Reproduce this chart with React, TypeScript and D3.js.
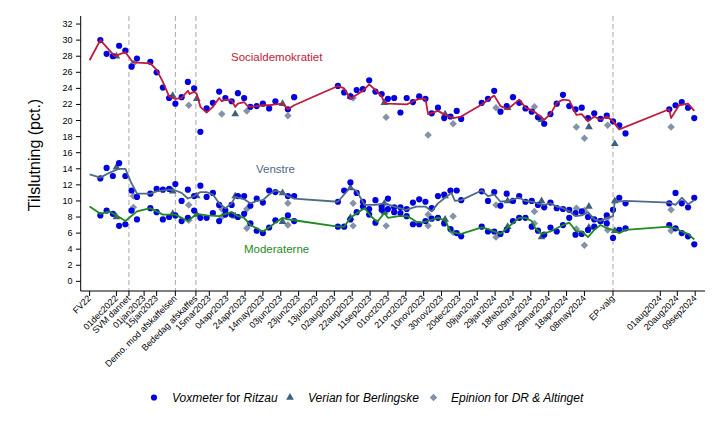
import * as d3 from "d3"

const parse = d3.timeParse("%Y-%m-%d")

// Voxmeter for Ritzau (weekly)
const voxDates = [
  "2022-11-13","2022-11-20","2022-11-27","2022-12-04","2022-12-11","2022-12-18","2022-12-24",
  "2023-01-08","2023-01-15","2023-01-22","2023-01-29","2023-02-05","2023-02-12","2023-02-19","2023-02-26",
  "2023-03-05","2023-03-12","2023-03-19","2023-03-26","2023-04-02","2023-04-09","2023-04-16","2023-04-23","2023-04-30",
  "2023-05-07","2023-05-14","2023-05-21","2023-05-28","2023-06-11","2023-06-18",
  "2023-08-06","2023-08-13","2023-08-20","2023-08-27","2023-09-03","2023-09-10","2023-09-17","2023-09-24",
  "2023-10-01","2023-10-08","2023-10-15","2023-10-22","2023-10-29","2023-11-05","2023-11-12","2023-11-19","2023-11-26",
  "2023-12-03","2023-12-10","2023-12-17","2023-12-22",
  "2024-01-14","2024-01-21","2024-01-28","2024-02-04","2024-02-11","2024-02-18","2024-02-25",
  "2024-03-03","2024-03-10","2024-03-17","2024-03-24","2024-03-31","2024-04-07","2024-04-14","2024-04-21","2024-04-28",
  "2024-05-05","2024-05-12","2024-05-19","2024-05-26","2024-06-02","2024-06-09","2024-06-16","2024-06-23",
  "2024-08-11","2024-08-18","2024-08-25","2024-09-01","2024-09-08",
]
const voxS = [
  30.0, 28.3, 28.0, 29.3, 28.7, 26.7, 27.7, 27.3, 26.0, 24.1, 22.8, 22.1, 22.9, 24.8, 24.0,
  18.6, 21.5, 22.2, 23.6, 22.8, 22.4, 23.4, 22.8, 21.7, 21.8, 22.1, 21.5, 22.4, 21.4, 22.9,
  24.3, 23.5, 23.0, 23.8, 23.9, 25.0, 23.6, 23.3, 22.7, 22.8, 21.0, 22.8, 22.3, 23.0, 22.7, 20.9, 21.6,
  20.3, 20.5, 21.2, 20.2, 22.2, 22.7, 23.7, 21.1, 21.8, 22.9, 22.2,
  21.5, 21.1, 20.4, 19.6, 20.8, 22.1, 23.2, 21.8, 21.4, 21.6, 20.3, 20.9, 20.2, 20.6, 19.9, 19.4, 18.4,
  21.4, 21.9, 22.3, 21.6, 20.3,
]
const voxV = [
  12.8, 14.1, 13.1, 14.7, 13.1, 11.3, 10.5, 10.9, 11.5, 11.4, 11.5, 12.1, 10.0, 11.4, 10.6,
  11.9, 10.5, 11.0, 9.5, 8.8, 9.5, 10.6, 10.6, 9.4, 10.3, 9.8, 11.3, 11.1, 10.6, 10.6,
  9.9, 11.3, 12.3, 11.0, 9.9, 9.0, 10.1, 9.3, 10.3, 9.2, 9.2, 9.0, 9.8, 10.2, 9.9, 9.1, 10.6,
  10.8, 11.3, 11.3, 10.1, 11.2, 10.0, 11.1, 9.4, 10.9, 10.0, 10.6,
  9.9, 10.0, 9.5, 9.2, 9.8, 9.1, 9.0, 8.9, 8.5, 8.7, 8.0, 7.7, 7.5, 8.2, 8.9, 10.4, 9.7,
  9.7, 11.0, 9.7, 9.2, 10.4,
]
const voxM = [
  8.2, 8.8, 8.4, 6.9, 7.1, 8.8, 7.7, 9.1, 8.6, 7.7, 8.0, 8.2, 7.5, 7.9, 8.8,
  7.9, 7.9, 8.5, 7.5, 8.3, 8.3, 8.0, 8.4, 7.2, 6.3, 6.0, 6.7, 7.6, 8.2, 7.5,
  6.8, 6.8, 7.7, 8.6, 9.3, 8.3, 7.3, 8.9, 9.0, 8.6, 8.5, 8.1, 7.1, 7.1, 7.5, 7.8, 7.9,
  7.2, 6.5, 6.0, 5.6, 6.8, 6.2, 6.2, 5.9, 6.4, 7.5, 7.9,
  7.9, 6.8, 6.3, 5.8, 6.7, 6.2, 7.0, 7.9, 5.8, 5.9, 6.4, 6.8, 7.5, 7.2, 5.4, 6.4, 6.6,
  7.0, 6.6, 6.0, 5.6, 4.6,
]

// Verian for Berlingske
const verDates = [
  "2022-12-01","2023-02-02","2023-03-01","2023-04-13","2023-06-05","2023-08-20",
  "2023-09-27","2023-12-04","2024-02-12","2024-03-21","2024-05-13","2024-06-11",
]
const verS = [28.0, 23.1, 22.7, 20.8, 22.1, 23.0, 22.2, 20.8, 21.6, 20.1, 19.2, 17.1]
const verV = [14.2, 11.2, 10.6, 10.6, 11.0, 11.6, 9.7, 10.6, 10.0, 10.0, 9.3, 10.0]
const verM = [8.0, 8.4, 8.3, 8.1, 7.4, 7.9, 8.6, 7.7, 6.8, 5.5, 6.7, 6.3]

// Epinion for DR & Altinget
const epiDates = [
  "2022-12-20","2023-02-20","2023-03-29","2023-04-26","2023-06-11","2023-08-23","2023-09-29",
  "2023-11-15","2023-12-13","2024-01-30","2024-03-13","2024-04-29","2024-05-08","2024-06-03","2024-08-13",
]
const epiS = [27.1, 21.9, 20.8, 21.2, 20.6, 22.8, 20.4, 18.2, 19.6, 21.6, 21.7, 19.2, 17.8, 19.4, 19.2]
const epiV = [10.6, 9.5, 9.0, 9.0, 9.7, 9.7, 8.7, 8.3, 8.1, 9.5, 8.7, 9.1, 8.8, 7.9, 8.9]
const epiM = [9.2, 7.6, 8.0, 6.6, 7.0, 6.9, 6.9, 6.9, 6.1, 5.5, 7.2, 6.5, 4.5, 6.4, 6.3]

// running averages
const sAvgDates = [
  "2022-11-01","2022-11-13","2022-11-29","2022-12-11","2022-12-19","2022-12-24","2023-01-08","2023-01-15",
  "2023-01-22","2023-01-29","2023-02-05","2023-02-12","2023-02-19","2023-02-21","2023-02-26","2023-03-01",
  "2023-03-05","2023-03-12","2023-03-19","2023-03-26","2023-03-29","2023-04-02","2023-04-09","2023-04-13",
  "2023-04-16","2023-04-23","2023-04-26","2023-04-30","2023-05-07","2023-05-14","2023-05-21","2023-05-28",
  "2023-06-05","2023-06-11","2023-06-18","2023-08-06","2023-08-13","2023-08-20","2023-08-27","2023-09-03",
  "2023-09-10","2023-09-17","2023-09-24","2023-09-27","2023-10-01","2023-10-22","2023-10-29","2023-11-05",
  "2023-11-12","2023-11-15","2023-11-26","2023-12-04","2023-12-13","2023-12-22","2024-01-14","2024-01-28",
  "2024-02-04","2024-02-12","2024-02-25","2024-03-03","2024-03-13","2024-03-24","2024-03-31","2024-04-07",
  "2024-04-14","2024-04-21","2024-04-29","2024-05-05","2024-05-12","2024-05-19","2024-05-26","2024-06-02",
  "2024-06-09","2024-06-16","2024-08-11","2024-08-13","2024-08-22","2024-09-01","2024-09-08",
]
const sAvg = [
  27.5, 30.0, 28.0, 28.5, 27.3, 27.2, 27.1, 26.3, 24.8, 23.0, 22.7, 22.8, 23.7, 23.3, 23.6, 23.3,
  21.7, 21.0, 21.7, 22.8, 22.4, 22.6, 22.5, 21.7, 22.1, 22.3, 21.9, 21.7, 21.8, 21.9, 21.9, 22.0,
  22.1, 21.4, 21.9, 24.3, 24.0, 22.7, 23.2, 23.7, 24.5, 23.8, 23.0, 22.2, 22.1, 22.0, 22.4, 22.7,
  22.7, 20.8, 21.2, 20.7, 20.3, 20.5, 22.0, 23.1, 21.8, 21.4, 22.6, 21.6, 21.1, 20.1, 20.8, 22.2,
  22.6, 22.5, 20.7, 20.8, 19.9, 20.5, 20.1, 20.5, 19.9, 18.9, 21.4, 20.3, 21.9, 22.1, 21.2,
]
const vAvgDates = [
  "2022-11-01","2022-11-13","2022-11-23","2022-12-04","2022-12-11","2022-12-17","2022-12-24","2023-01-08",
  "2023-01-15","2023-01-29","2023-02-05","2023-02-12","2023-02-19","2023-02-26","2023-03-05","2023-03-12",
  "2023-03-19","2023-03-26","2023-04-02","2023-04-09","2023-04-13","2023-04-23","2023-04-30","2023-05-07",
  "2023-05-14","2023-05-21","2023-05-28","2023-06-05","2023-06-11","2023-06-18","2023-08-06","2023-08-20",
  "2023-08-27","2023-09-05","2023-09-17","2023-09-28","2023-10-08","2023-10-21","2023-11-02","2023-11-12",
  "2023-11-19","2023-11-26","2023-12-04","2023-12-11","2023-12-15","2023-12-22","2024-01-14","2024-01-21",
  "2024-01-28","2024-02-04","2024-02-12","2024-02-25","2024-03-03","2024-03-10","2024-03-17","2024-03-24",
  "2024-03-31","2024-04-07","2024-04-14","2024-04-21","2024-04-28","2024-05-05","2024-05-12","2024-05-19",
  "2024-05-26","2024-06-02","2024-06-09","2024-06-11","2024-06-23","2024-08-11","2024-08-18","2024-08-25",
  "2024-09-01","2024-09-08",
]
const vAvg = [
  13.3, 12.9, 13.5, 14.0, 14.0, 12.4, 10.9, 10.9, 11.2, 11.4, 11.3, 11.0, 10.3, 10.6, 11.1, 11.1,
  10.8, 9.7, 9.1, 9.7, 10.5, 10.2, 9.7, 10.0, 10.1, 10.8, 11.3, 11.0, 10.6, 10.3, 9.9, 11.7,
  11.2, 9.5, 9.5, 9.7, 9.3, 8.9, 9.3, 9.3, 8.7, 9.7, 10.4, 11.0, 10.0, 10.1, 11.3, 10.6,
  10.8, 9.9, 10.0, 10.4, 10.0, 9.9, 9.7, 9.5, 9.7, 9.3, 9.1, 8.7, 8.1, 8.2, 8.6, 7.7,
  7.5, 7.9, 8.1, 9.9, 10.0, 9.8, 9.5, 10.4, 9.6, 10.1,
]
const mAvgDates = [
  "2022-11-01","2022-11-13","2022-11-23","2022-12-04","2022-12-11","2022-12-24","2023-01-08","2023-01-15",
  "2023-01-22","2023-02-05","2023-02-12","2023-02-19","2023-03-01","2023-03-12","2023-03-26","2023-04-02",
  "2023-04-09","2023-04-16","2023-04-23","2023-04-30","2023-05-07","2023-05-14","2023-05-21","2023-05-28",
  "2023-06-05","2023-06-11","2023-06-18","2023-08-06","2023-08-13","2023-08-20","2023-08-30","2023-09-05",
  "2023-09-12","2023-09-19","2023-09-27","2023-10-01","2023-10-13","2023-10-23","2023-11-02","2023-11-09",
  "2023-11-17","2023-11-26","2023-12-04","2023-12-10","2023-12-17","2023-12-22","2024-01-14","2024-01-21",
  "2024-02-04","2024-02-12","2024-02-25","2024-03-03","2024-03-10","2024-03-14","2024-03-21","2024-03-31",
  "2024-04-07","2024-04-14","2024-04-21","2024-04-29","2024-05-05","2024-05-12","2024-05-19","2024-05-26",
  "2024-06-02","2024-06-09","2024-06-16","2024-06-23","2024-08-11","2024-08-18","2024-08-25","2024-09-01",
  "2024-09-08",
]
const mAvg = [
  9.3, 8.4, 8.7, 8.0, 7.5, 8.7, 9.1, 8.7, 8.3, 8.3, 7.9, 7.5, 8.4, 8.2, 8.1, 8.4,
  8.6, 8.1, 7.9, 7.0, 6.6, 6.2, 6.7, 7.3, 7.9, 7.7, 7.6, 6.8, 6.8, 7.9, 8.7, 9.1,
  8.1, 7.4, 8.5, 7.9, 8.1, 8.1, 7.4, 7.3, 7.6, 7.9, 7.6, 6.2, 6.0, 5.9, 6.7, 6.5,
  5.9, 6.7, 7.9, 7.9, 7.5, 6.6, 5.9, 6.2, 6.6, 7.0, 7.3, 6.2, 6.2, 5.5, 6.4, 7.0,
  6.6, 6.4, 6.0, 6.4, 6.8, 6.6, 6.2, 5.9, 5.2,
]

const tickDates = [
  "2022-11-01","2022-12-01","2022-12-15","2023-01-01","2023-01-15","2023-02-05","2023-02-28","2023-03-15",
  "2023-04-04","2023-04-24","2023-05-14","2023-06-03","2023-06-23","2023-07-13","2023-08-02","2023-08-22",
  "2023-09-11","2023-10-01","2023-10-21","2023-11-10","2023-11-30","2023-12-20","2024-01-09","2024-01-29",
  "2024-02-18","2024-03-09","2024-03-29","2024-04-18","2024-05-08","2024-06-09","2024-08-01","2024-08-20",
  "2024-09-09",
]
const tickLabels = [
  "FV22","01dec2022","SVM dannet","01jan2023","15jan2023","Demo. mod afskaffelsen","Bededag afskaffes","15mar2023",
  "04apr2023","24apr2023","14may2023","03jun2023","23jun2023","13jul2023","02aug2023","22aug2023",
  "11sep2023","01oct2023","21oct2023","10nov2023","30nov2023","20dec2023","09jan2024","29jan2024",
  "18feb2024","09mar2024","29mar2024","18apr2024","08may2024","EP-valg","01aug2024","20aug2024",
  "09sep2024",
]
const eventDates = ["2022-12-15", "2023-02-05", "2023-02-28", "2024-06-09"]
const yTicks = d3.range(0, 33, 2)

const RED = "#c01a3c"
const SLATE = "#4d6a86"
const GREEN = "#1f8a1f"
const BLUE = "#0000e0"
const TRI = "#3f5f7a"
const DIA = "#8493a7"
const FONT = "'Liberation Sans', Arial, sans-serif"

const pts = (dates, vals) => dates.map((d, i) => ({ date: parse(d), v: vals[i] }))

export default function App() {
  const width = 720
  const height = 432
  const x = d3.scaleTime()
    .domain([parse("2022-10-22"), parse("2024-09-20")])
    .range([80.7, 705])
  const y = d3.scaleLinear().domain([-1.2, 33]).range([291, 16])

  const line = d3.line().x((d) => x(d.date)).y((d) => y(d.v))
  const tri = d3.symbol(d3.symbolTriangle, 26)()
  const dia = d3.symbol(d3.symbolSquare, 28)()

  const vox = [voxS, voxV, voxM].flatMap((vals) => pts(voxDates, vals))
  const ver = [verS, verV, verM].flatMap((vals) => pts(verDates, vals))
  const epi = [epiS, epiV, epiM].flatMap((vals) => pts(epiDates, vals))

  const avgs = [
    { data: pts(sAvgDates, sAvg), color: RED },
    { data: pts(vAvgDates, vAvg), color: SLATE },
    { data: pts(mAvgDates, mAvg), color: GREEN },
  ]

  return (
    <svg width={width} height={height} style={{ position: "absolute", left: 0, top: 0, background: "#fff" }} fontFamily={FONT}>
      {/* event lines */}
      {eventDates.map((d) => (
        <line key={d} x1={x(parse(d))} x2={x(parse(d))} y1={16} y2={291}
          stroke="#a8a8a8" strokeWidth={1} strokeDasharray="5,3" />
      ))}

      {/* polls */}
      {epi.map((p, i) => (
        <path key={"e" + i} d={dia} fill={DIA}
          transform={`translate(${x(p.date)},${y(p.v)}) rotate(45)`} />
      ))}
      {ver.map((p, i) => (
        <path key={"t" + i} d={tri} fill={TRI}
          transform={`translate(${x(p.date)},${y(p.v)})`} />
      ))}
      {vox.map((p, i) => (
        <circle key={"c" + i} cx={x(p.date)} cy={y(p.v)} r={3.1} fill={BLUE} />
      ))}

      {/* averages */}
      {avgs.map((a) => (
        <path key={a.color} d={line(a.data)} fill="none" stroke={a.color} strokeWidth={1.8} strokeLinejoin="round" />
      ))}

      {/* party labels */}
      <text x={231} y={61} fontSize={11.5} fill={RED}>Socialdemokratiet</text>
      <text x={256} y={173} fontSize={11.5} fill={SLATE}>Venstre</text>
      <text x={244} y={252.5} fontSize={11.5} fill={GREEN}>Moderaterne</text>

      {/* y axis */}
      <line x1={80.7} x2={80.7} y1={16} y2={291} stroke="#000" />
      {yTicks.map((t) => (
        <g key={t} transform={`translate(0,${y(t)})`}>
          <line x1={76} x2={80.7} stroke="#000" />
          <text x={72.5} dy="0.33em" fontSize={9} textAnchor="end">{t}</text>
        </g>
      ))}
      <text transform="translate(40,155) rotate(-90)" textAnchor="middle" fontSize={16}>Tilslutning (pct.)</text>

      {/* x axis */}
      <line x1={80.7} x2={705} y1={291} y2={291} stroke="#000" />
      {tickDates.map((d, i) => {
        const tx = x(parse(d))
        return (
          <g key={d}>
            <line x1={tx} x2={tx} y1={291} y2={296} stroke="#000" />
            <text transform={`translate(${tx + 2},${299}) rotate(-45)`} textAnchor="end" fontSize={9}>
              {tickLabels[i]}
            </text>
          </g>
        )
      })}

      {/* legend */}
      <circle cx={154} cy={397.5} r={3.1} fill={BLUE} />
      <text x={172} y={401.5} fontSize={12}>
        <tspan fontStyle="italic">Voxmeter</tspan> for <tspan fontStyle="italic">Ritzau</tspan>
      </text>
      <path d={tri} fill={TRI} transform="translate(290,397.5)" />
      <text x={308} y={401.5} fontSize={12}>
        <tspan fontStyle="italic">Verian</tspan> for <tspan fontStyle="italic">Berlingske</tspan>
      </text>
      <path d={dia} fill={DIA} transform="translate(433.5,397.5) rotate(45)" />
      <text x={451} y={401.5} fontSize={12}>
        <tspan fontStyle="italic">Epinion</tspan> for <tspan fontStyle="italic">DR &amp; Altinget</tspan>
      </text>
    </svg>
  )
}
